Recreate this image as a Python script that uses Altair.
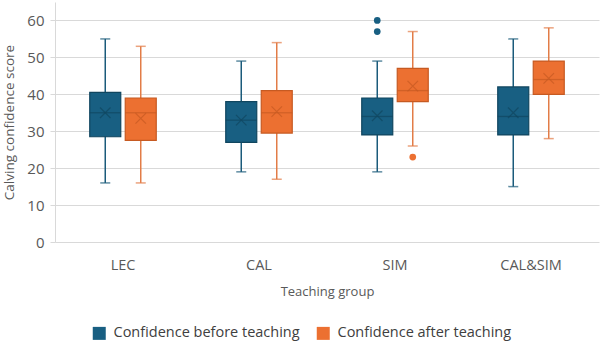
import altair as alt
import pandas as pd

groups = ["LEC", "CAL", "SIM", "CAL&SIM"]
series = ["Confidence before teaching", "Confidence after teaching"]

before_min = [16, 19, 19, 15]
before_q1 = [28.5, 27, 29, 29]
before_med = [35, 33, 34, 34]
before_q3 = [40.5, 38, 39, 42]
before_max = [55, 49, 49, 55]
before_mean = [35, 33, 34.2, 35]

after_min = [16, 17, 26, 28]
after_q1 = [27.5, 29.5, 38, 40]
after_med = [35, 35, 41, 44]
after_q3 = [39, 41, 47, 49]
after_max = [53, 54, 57, 58]
after_mean = [33.5, 35.3, 42.2, 44.3]

outlier_group = ["SIM", "SIM", "SIM"]
outlier_series = [series[0], series[0], series[1]]
outlier_value = [60, 57, 23]

y_ticks = [0, 10, 20, 30, 40, 50, 60]

fill_colors = ["#185f82", "#ec7031"]
dark_colors = ["#10465f", "#c65a22"]
whisker_colors = ["#1b5b7b", "#e27c47"]

rows = []
for i, g in enumerate(groups):
    rows.append(dict(group=g, series=series[0], lo=before_min[i], q1=before_q1[i],
                     med=before_med[i], q3=before_q3[i], hi=before_max[i], mean=before_mean[i]))
    rows.append(dict(group=g, series=series[1], lo=after_min[i], q1=after_q1[i],
                     med=after_med[i], q3=after_q3[i], hi=after_max[i], mean=after_mean[i]))
df = pd.DataFrame(rows)
odf = pd.DataFrame(dict(group=outlier_group, series=outlier_series, value=outlier_value))

FONT = "Open Sans"

x = alt.X("group:N", sort=groups, title="Teaching group",
          scale=alt.Scale(paddingInner=0, paddingOuter=0),
          axis=alt.Axis(labelAngle=0, domain=False, ticks=False, grid=False, labelPadding=16,
                        labelFontSize=14.5, labelColor="#595959", titleFontSize=13,
                        titleColor="#595959", titleFontWeight="normal", titlePadding=14,
                        labelFont=FONT, titleFont=FONT))
xo = alt.XOffset("series:N", sort=series,
                 scale=alt.Scale(paddingInner=0.127, paddingOuter=0.979))
yscale = alt.Scale(domain=[0, 65], nice=False)
yaxis = alt.Axis(values=y_ticks, tickSize=5, grid=True, labelOverlap=False,
                 tickColor="#d9d9d9", domainColor="#d9d9d9", gridColor="#d9d9d9",
                 labelFontSize=15, labelColor="#595959", labelPadding=6,
                 titleFontSize=13.5, titleColor="#595959", titleFontWeight="normal",
                 titlePadding=10, labelFont=FONT, titleFont=FONT)
YT = "Calving confidence score"


def Y(field):
    return alt.Y(field, scale=yscale, title=YT, axis=yaxis)


color_sel = alt.Color("series:N", sort=series, title=None,
                      scale=alt.Scale(domain=series, range=fill_colors),
                      legend=alt.Legend(orient="none", legendX=37, legendY=324,
                                        direction="horizontal", symbolType="square",
                                        symbolSize=169, symbolStrokeWidth=0,
                                        labelFontSize=14.5, labelColor="#404040",
                                        labelFont=FONT, columnPadding=16, symbolOffset=0,
                                        labelOffset=7, labelLimit=400))
dark = alt.Color("series:N", sort=series, legend=None,
                 scale=alt.Scale(domain=series, range=dark_colors))
wcol = alt.Color("series:N", sort=series, legend=None,
                 scale=alt.Scale(domain=series, range=whisker_colors))

base = alt.Chart(df)

whisk = base.mark_rule(strokeWidth=1.5).encode(
    x=x, xOffset=xo, y=Y("lo:Q"), y2="hi:Q", color=wcol)

cap_lo = base.mark_tick(size=10, thickness=1.5, orient="horizontal").encode(
    x=x, xOffset=xo, y=Y("lo:Q"), color=wcol)
cap_hi = base.mark_tick(size=10, thickness=1.5, orient="horizontal").encode(
    x=x, xOffset=xo, y=Y("hi:Q"), color=wcol)

box = base.mark_bar(width=31, strokeWidth=1.2).encode(
    x=x, xOffset=xo, y=Y("q1:Q"), y2="q3:Q",
    color=color_sel, stroke=dark)

med = base.mark_tick(size=31, thickness=1.3, orient="horizontal").encode(
    x=x, xOffset=xo, y=Y("med:Q"), color=dark)

mean = base.mark_point(shape="M-1,-1L1,1M-1,1L1,-1", size=110, filled=False,
                       strokeWidth=1.2).encode(
    x=x, xOffset=xo, y=Y("mean:Q"), color=dark)

outl = alt.Chart(odf).mark_circle(size=45, opacity=1).encode(
    x=x, xOffset=xo, y=Y("value:Q"),
    color=alt.Color("series:N", sort=series, legend=None,
                    scale=alt.Scale(domain=series, range=fill_colors)))

chart = alt.layer(whisk, cap_lo, cap_hi, box, med, mean, outl).resolve_scale(
    color="independent").properties(
    width=544, height=240,
    autosize=alt.AutoSizeParams(type="none"),
    padding={"left": 55, "top": 2, "right": 1, "bottom": 102},
).configure_view(stroke=None)

chart.save("out.html", embed_options={"renderer": "svg", "actions": False})
